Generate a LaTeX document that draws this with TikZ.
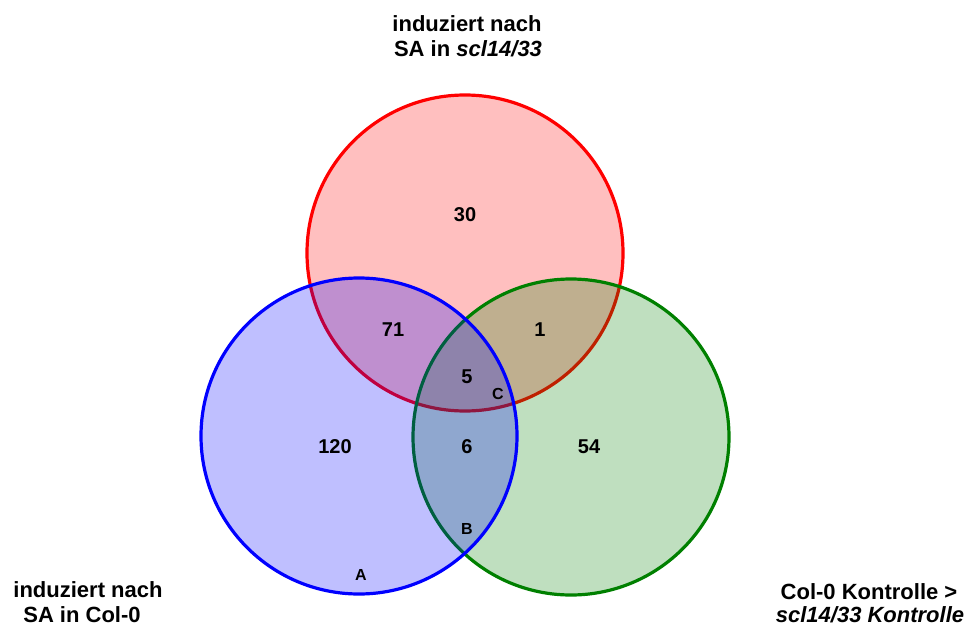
\documentclass[tikz,border=0pt]{standalone}
\usepackage{fontspec}
\setmainfont{Liberation Sans}
\begin{document}
\begin{tikzpicture}[x=1pt,y=-1pt,
  setc/.style={line width=3.2pt, fill opacity=0.25},
  lbl/.style={font=\fontsize{22}{25}\selectfont\bfseries, anchor=base, inner sep=0pt},
  num/.style={font=\fontsize{20}{22}\selectfont\bfseries, inner sep=0pt},
  let/.style={font=\fontsize{16}{18}\selectfont\bfseries, inner sep=0pt}]
\useasboundingbox (0,0) rectangle (969,626);
\definecolor{cred}{RGB}{255,0,0}
\definecolor{cblue}{RGB}{0,0,255}
\definecolor{cgreen}{RGB}{0,128,0}
% circles
\draw[setc, draw=cred, fill=cred] (465,253) circle[radius=158];
\draw[setc, draw=cgreen, fill=cgreen] (571,437) circle[radius=158];
\draw[setc, draw=cblue, fill=cblue] (359,436) circle[radius=158];
% set labels
\node[lbl] (t1) at (467,32) {induziert nach};
\node[lbl] (t2) at (468,57) {SA in \textit{scl14/33}};
\node[lbl] (l1) at (88,597) {induziert nach};
\node[lbl] (l2) at (82,622) {SA in Col-0};
\node[lbl] (r1) at (869,599) {Col-0 Kontrolle >};
\node[lbl] (r2) at (870,622) {\textit{scl14/33 Kontrolle}};
% counts
\node[num] (n30) at (465,215) {30};
\node[num] (n71) at (393,330) {71};
\node[num] (n1) at (540,330) {1};
\node[num] (n5) at (467,377) {5};
\node[num] (n120) at (335,447) {120};
\node[num] (n6) at (467,447) {6};
\node[num] (n54) at (589,447) {54};
% letters
\node[let] (lc) at (498,394) {C};
\node[let] (lb) at (467,529) {B};
\node[let] (la) at (361,575) {A};
\end{tikzpicture}
\end{document}
